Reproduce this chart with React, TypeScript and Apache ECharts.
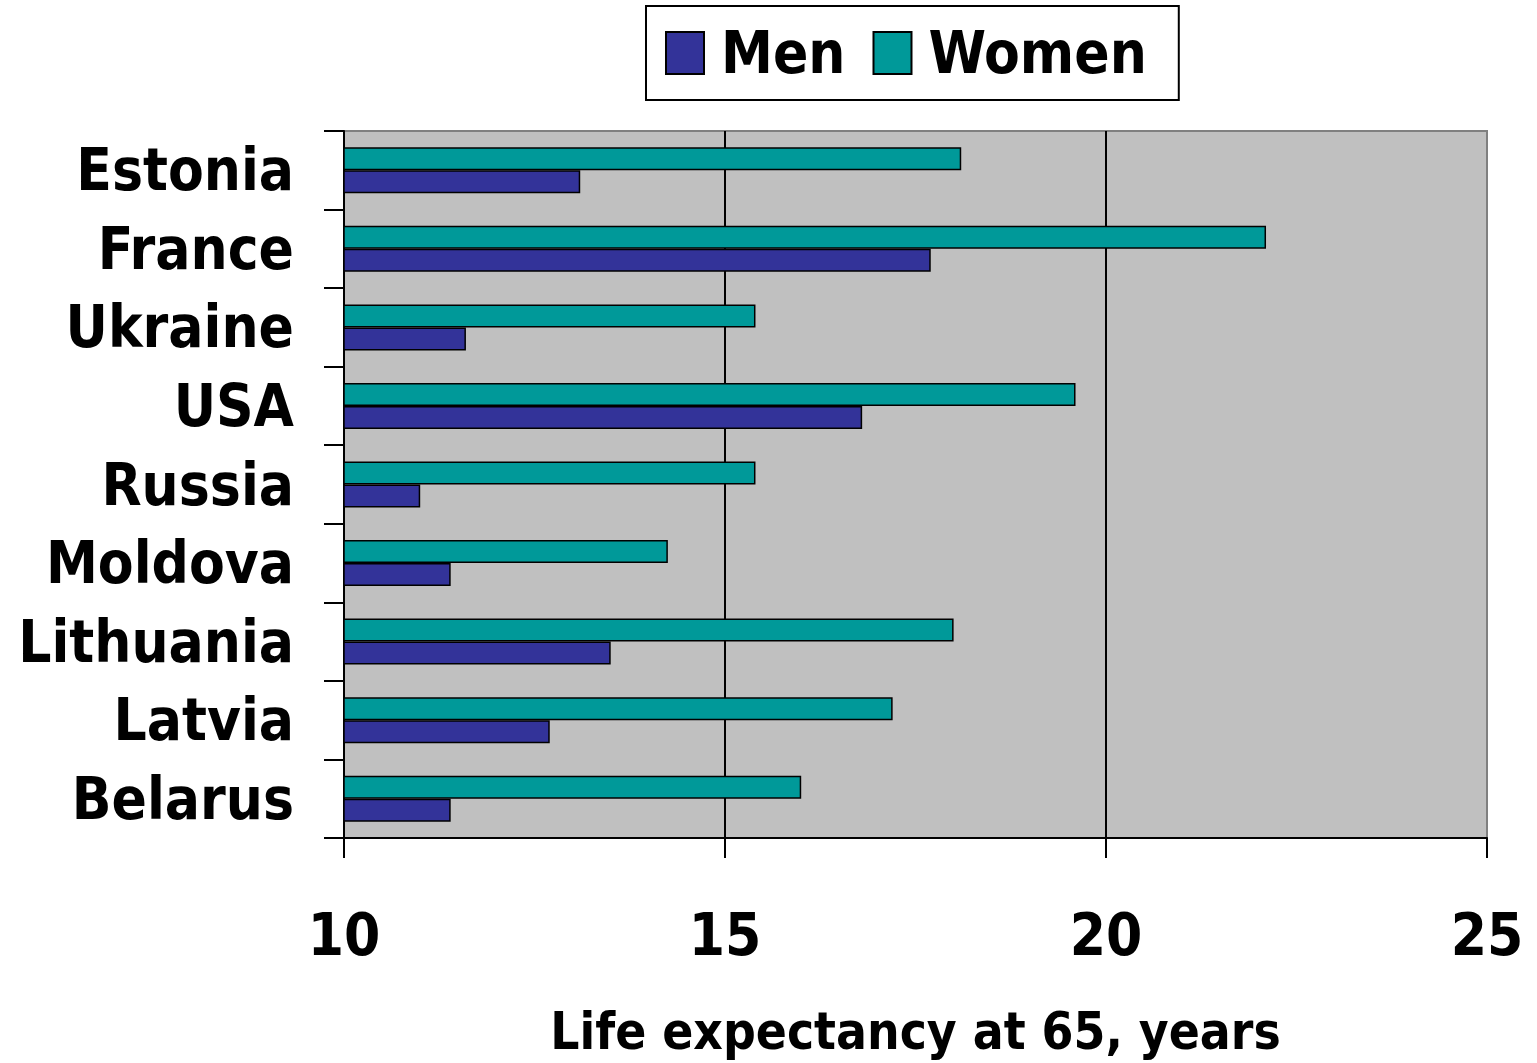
import React, { useEffect, useRef } from "react";
import * as echarts from "echarts";

const countries = ["Estonia", "France", "Ukraine", "USA", "Russia", "Moldova", "Lithuania", "Latvia", "Belarus"];
const womenValues = [18.1, 22.1, 15.4, 19.6, 15.4, 14.25, 18.0, 17.2, 16.0];
const menValues = [13.1, 17.7, 11.6, 16.8, 11.0, 11.4, 13.5, 12.7, 11.4];
const xTicks = { min: 10, max: 25, interval: 5 };
const xTitle = "Life expectancy at 65, years";

const FONT = "'DejaVu Sans Condensed', 'DejaVu Sans', sans-serif";

export default function App() {
  const ref = useRef<HTMLDivElement>(null);
  useEffect(() => {
    if (!ref.current) return;
    const chart = echarts.init(ref.current, null, { renderer: "svg" });
    chart.setOption({
      animation: false,
      backgroundColor: "#ffffff",
      textStyle: { fontFamily: FONT },
      legend: {
        data: ["Men", "Women"],
        left: 646,
        top: 6,
        padding: [18, 32, 18, 19],
        borderColor: "#000",
        borderWidth: 2,
        itemWidth: 38,
        itemHeight: 42,
        itemGap: 27,
        icon: "rect",
        textStyle: { fontSize: 58, fontWeight: "bold", color: "#000", fontFamily: FONT, padding: [0, 0, 0, 12] },
      },
      grid: {
        left: 344,
        right: 50,
        top: 131,
        bottom: 225,
        show: true,
        backgroundColor: "#C0C0C0",
        borderColor: "#808080",
        borderWidth: 2,
      },
      xAxis: {
        type: "value",
        min: xTicks.min,
        max: xTicks.max,
        interval: xTicks.interval,
        name: xTitle,
        nameLocation: "middle",
        nameGap: 168,
        nameTextStyle: { fontSize: 51, fontWeight: "bold", color: "#000", fontFamily: FONT },
        axisLine: { show: true, lineStyle: { color: "#000", width: 2 } },
        axisTick: { show: true, length: 20, lineStyle: { color: "#000", width: 2 } },
        axisLabel: { fontSize: 58, fontWeight: "bold", color: "#000", margin: 68, fontFamily: FONT },
        splitLine: { show: true, showMinLine: false, showMaxLine: false, lineStyle: { color: "#000", width: 2 } },
      },
      yAxis: {
        type: "category",
        data: countries,
        inverse: true,
        axisLine: { show: true, lineStyle: { color: "#000", width: 2 } },
        axisTick: { show: true, length: 20, lineStyle: { color: "#000", width: 2 } },
        axisLabel: { fontSize: 58, fontWeight: "bold", color: "#000", margin: 50, fontFamily: FONT },
        splitLine: { show: false },
      },
      series: [
        {
          name: "Women",
          type: "bar",
          data: womenValues,
          barWidth: 23,
          barGap: "0%",
          itemStyle: { color: "#009999", borderColor: "#000", borderWidth: 1.5 },
        },
        {
          name: "Men",
          type: "bar",
          data: menValues,
          barWidth: 23,
          barGap: "0%",
          itemStyle: { color: "#333399", borderColor: "#000", borderWidth: 1.5 },
        },
      ],
    });
    return () => chart.dispose();
  }, []);
  return <div ref={ref} style={{ position: "absolute", left: 0, top: 0, width: 1537, height: 1063 }} />;
}
